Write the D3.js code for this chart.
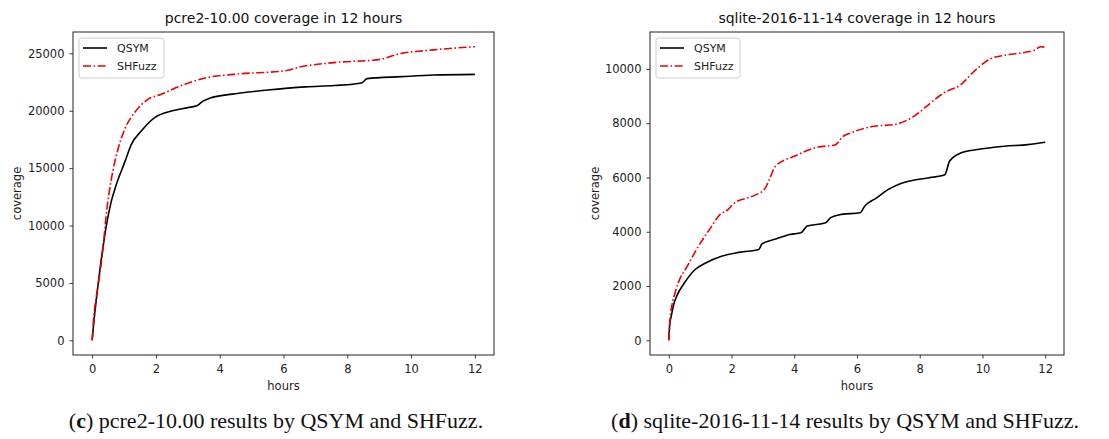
<!DOCTYPE html>
<html>
<head>
<meta charset="utf-8">
<script src="https://cdn.jsdelivr.net/npm/d3@7"></script>
<style>
  html, body { margin: 0; padding: 0; background: #fff; }
  svg { display: block; }
</style>
</head>
<body>
<svg id="chart" width="1109" height="439"></svg>
<script>
// hours on the x axis, shared by both panels
const hourTicks = [0, 2, 4, 6, 8, 10, 12];
const seriesNames = ["QSYM", "SHFuzz"];

// (c) pcre2-10.00
const pcreTitle = "pcre2-10.00 coverage in 12 hours";
const pcreCaption = ["c", " pcre2-10.00 results by QSYM and SHFuzz."];
const pcreYTicks = [0, 5000, 10000, 15000, 20000, 25000];
const pcreQsym = [
  [0, 0], [0.05, 1500], [0.15, 4000], [0.25, 6300], [0.34, 8100], [0.44, 9900],
  [0.6, 12100], [0.75, 13500], [1.02, 15500], [1.23, 17070], [1.54, 18230],
  [1.96, 19400], [2.48, 19970], [3.0, 20270], [3.3, 20450], [3.45, 20800],
  [3.7, 21100], [4.4, 21450], [5.5, 21800], [6.7, 22080], [7.6, 22200],
  [8.45, 22420], [8.62, 22800], [9.7, 22970], [10.7, 23110], [12, 23170]
];
const pcreShfuzz = [
  [0, 0], [0.05, 2000], [0.12, 3600], [0.2, 5000], [0.34, 8000], [0.44, 10900],
  [0.6, 14000], [0.81, 16640], [1.02, 18380], [1.33, 19830], [1.75, 20990],
  [2.17, 21430], [2.76, 22150], [3.59, 22880], [4.43, 23170], [6.1, 23500],
  [6.42, 23750], [7.57, 24190], [9.04, 24480], [9.56, 24910], [10.71, 25300],
  [12, 25580]
];

// (d) sqlite-2016-11-14
const sqliteTitle = "sqlite-2016-11-14 coverage in 12 hours";
const sqliteCaption = ["d", " sqlite-2016-11-14 results by QSYM and SHFuzz."];
const sqliteYTicks = [0, 2000, 4000, 6000, 8000, 10000];
const sqliteQsym = [
  [0, 0], [0.03, 600], [0.08, 900], [0.15, 1300], [0.25, 1630], [0.5, 2120],
  [0.84, 2610], [1.19, 2860], [1.68, 3100], [2.28, 3250], [2.87, 3350],
  [2.97, 3550], [3.37, 3720], [3.86, 3900], [4.21, 3960], [4.41, 4210],
  [5.0, 4330], [5.15, 4510], [5.5, 4640], [6.1, 4700], [6.25, 4950],
  [6.6, 5230], [7.0, 5560], [7.4, 5780], [7.8, 5900], [8.3, 5990],
  [8.8, 6100], [8.95, 6600], [9.3, 6900], [9.84, 7030], [10.7, 7150],
  [11.44, 7210], [12, 7300]
];
const sqliteShfuzz = [
  [0, 0], [0.04, 800], [0.1, 1300], [0.2, 1750], [0.3, 2120], [0.59, 2730],
  [0.94, 3460], [1.29, 4070], [1.63, 4630], [1.88, 4810], [2.08, 5050],
  [2.48, 5240], [2.77, 5360], [3.07, 5600], [3.22, 5970], [3.4, 6420],
  [4.0, 6780], [4.75, 7120], [5.3, 7200], [5.55, 7510], [5.8, 7640],
  [6.54, 7890], [7.18, 7950], [7.82, 8260], [8.35, 8750], [8.77, 9120],
  [9.31, 9420], [9.73, 9910], [10.27, 10380], [10.69, 10500], [11.44, 10630],
  [11.65, 10690], [11.86, 10820], [12, 10800]
];

const svg = d3.select("#chart");
const sansFont = "'DejaVu Sans', sans-serif";
const tickColor = "#222";
const labelSize = 11.5;

function drawPanel(opts) {
  const { left, right, top, bottom } = opts;
  const g = svg.append("g");

  // matplotlib style 5% margins around the data
  const xExt = [0, 12];
  const xPad = (xExt[1] - xExt[0]) * 0.05;
  const yMax = d3.max(opts.series, s => d3.max(s.values, d => d[1]));
  const yPad = yMax * 0.05;

  const x = d3.scaleLinear().domain([xExt[0] - xPad, xExt[1] + xPad]).range([left, right]);
  const y = d3.scaleLinear().domain([-yPad, yMax + yPad]).range([bottom, top]);

  const xAxis = g.append("g")
    .attr("transform", `translate(0,${bottom})`)
    .call(d3.axisBottom(x).tickValues(hourTicks).tickSize(3.5).tickPadding(6.5).tickFormat(d3.format("d")));
  const yAxis = g.append("g")
    .attr("transform", `translate(${left},0)`)
    .call(d3.axisLeft(y).tickValues(opts.yTicks).tickSize(3.5).tickPadding(5).tickFormat(d3.format("d")));

  [xAxis, yAxis].forEach(a => {
    a.select(".domain").remove();
    a.selectAll(".tick line").attr("stroke", tickColor).attr("stroke-width", 0.9);
    a.selectAll(".tick text")
      .attr("fill", tickColor)
      .attr("font-family", sansFont)
      .attr("font-size", labelSize);
  });

  // frame
  g.append("rect")
    .attr("x", left)
    .attr("y", top)
    .attr("width", right - left)
    .attr("height", bottom - top)
    .attr("fill", "none")
    .attr("stroke", "#222")
    .attr("stroke-width", 1);

  const line = d3.line()
    .x(d => x(d[0]))
    .y(d => y(d[1]))
    .curve(d3.curveMonotoneX);

  g.append("g")
    .selectAll("path")
    .data(opts.series)
    .join("path")
    .attr("d", d => line(d.values))
    .attr("fill", "none")
    .attr("stroke", d => d.color)
    .attr("stroke-width", 1.6)
    .attr("stroke-dasharray", d => d.dash)
    .attr("stroke-linejoin", "round");

  // title
  g.append("text")
    .attr("x", (left + right) / 2)
    .attr("y", 23)
    .attr("text-anchor", "middle")
    .attr("font-family", sansFont)
    .attr("font-size", 14)
    .attr("fill", "#111")
    .text(opts.title);

  // axis labels
  g.append("text")
    .attr("x", (left + right) / 2)
    .attr("y", 390)
    .attr("text-anchor", "middle")
    .attr("font-family", sansFont)
    .attr("font-size", labelSize)
    .attr("fill", tickColor)
    .text("hours");

  g.append("text")
    .attr("transform", `translate(${opts.yLabelX},${(top + bottom) / 2}) rotate(-90)`)
    .attr("text-anchor", "middle")
    .attr("font-family", sansFont)
    .attr("font-size", labelSize)
    .attr("fill", tickColor)
    .text("coverage");

  // legend
  const lg = g.append("g").attr("transform", `translate(${left + 6},${top + 6})`);
  lg.append("rect")
    .attr("width", opts.legendWidth)
    .attr("height", 40)
    .attr("rx", 2.5)
    .attr("fill", "#fff")
    .attr("fill-opacity", 0.8)
    .attr("stroke", "#ccc")
    .attr("stroke-width", 1);

  const items = lg.selectAll("g.item")
    .data(opts.series)
    .join("g")
    .attr("class", "item")
    .attr("transform", (d, i) => `translate(4,${10 + i * 18})`);

  items.append("line")
    .attr("x1", 0)
    .attr("x2", 24)
    .attr("stroke", d => d.color)
    .attr("stroke-width", 1.6)
    .attr("stroke-dasharray", d => d.dash);

  items.append("text")
    .attr("x", 34)
    .attr("dy", "0.35em")
    .attr("font-family", sansFont)
    .attr("font-size", 11)
    .attr("fill", tickColor)
    .text(d => d.name);

  // caption below the panel
  const cap = svg.append("text")
    .attr("x", opts.captionX)
    .attr("y", 428)
    .attr("text-anchor", "middle")
    .attr("font-family", "'Liberation Serif', 'Times New Roman', serif")
    .attr("font-size", 22)
    .attr("fill", "#111");
  cap.append("tspan").text("(");
  cap.append("tspan").attr("font-weight", "bold").text(opts.caption[0]);
  cap.append("tspan").text(")");
  cap.append("tspan").text(opts.caption[1]);
}

function seriesOf(qsym, shfuzz) {
  return [
    { name: seriesNames[0], values: qsym, color: "#000", dash: null },
    { name: seriesNames[1], values: shfuzz, color: "#ee0000", dash: "8,2.5,1.6,2.5" }
  ];
}

drawPanel({
  left: 73, right: 494, top: 32, bottom: 355,
  title: pcreTitle,
  yTicks: pcreYTicks,
  series: seriesOf(pcreQsym, pcreShfuzz),
  yLabelX: 21,
  legendWidth: 85,
  caption: pcreCaption,
  captionX: 276
});

drawPanel({
  left: 650, right: 1064, top: 32, bottom: 355,
  title: sqliteTitle,
  yTicks: sqliteYTicks,
  series: seriesOf(sqliteQsym, sqliteShfuzz),
  yLabelX: 599,
  legendWidth: 84,
  caption: sqliteCaption,
  captionX: 845
});
</script>
</body>
</html>
